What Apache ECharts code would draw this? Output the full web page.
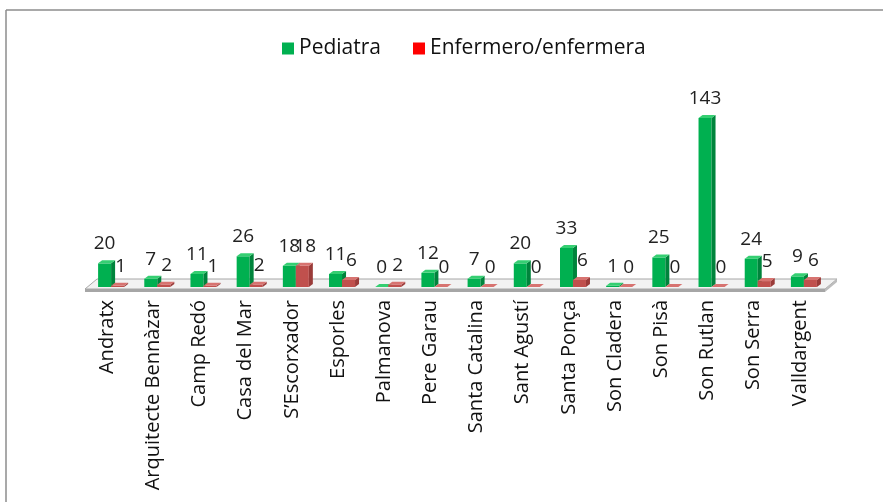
<!DOCTYPE html>
<html>
<head>
<meta charset="utf-8">
<script src="https://cdn.jsdelivr.net/npm/echarts@6/dist/echarts.min.js"></script>
<style>
  html, body { margin: 0; padding: 0; background: #fff; }
  #chart { width: 883px; height: 502px; }
</style>
</head>
<body>
<div id="chart"></div>
<script>
  // centros
  var categories = ['Andratx', 'Arquitecte Bennàzar', 'Camp Redó', 'Casa del Mar', 'S’Escorxador', 'Esporles',
    'Palmanova', 'Pere Garau', 'Santa Catalina', 'Sant Agustí', 'Santa Ponça', 'Son Cladera', 'Son Pisà',
    'Son Rutlan', 'Son Serra', 'Valldargent'];
  var pediatra = [20, 7, 11, 26, 18, 11, 0, 12, 7, 20, 33, 1, 25, 143, 24, 9];
  var enfermero = [1, 2, 1, 2, 18, 6, 2, 0, 0, 0, 6, 0, 0, 0, 5, 6];

  // colores de las caras: frontal, lateral, superior
  var faces = [
    ['#00b050', '#00843c', '#35cf72'],
    ['#c0504d', '#9a3b39', '#d77370']
  ];
  var barW = 13, dx = 4, dy = 3;

  function bar3d(idx, labelShift) {
    return function (params, api) {
      var v = api.value(1);
      var base = api.coord([api.value(0), 0]);
      var top = api.coord([api.value(0), v]);
      var x = base[0] - 9 + idx * barW;
      var y0 = base[1], y1 = top[1];
      var c = faces[idx];
      return {
        type: 'group',
        children: [
          { type: 'rect', shape: { x: x, y: y1, width: barW, height: y0 - y1 }, style: { fill: c[0] } },
          { type: 'polygon', shape: { points: [[x + barW, y1], [x + barW + dx, y1 - dy], [x + barW + dx, y0 - dy], [x + barW, y0]] }, style: { fill: c[1] } },
          { type: 'polygon', shape: { points: [[x, y1], [x + dx, y1 - dy], [x + barW + dx, y1 - dy], [x + barW, y1]] }, style: { fill: c[2] } },
          { type: 'text', x: x + barW / 2 + labelShift, y: y1 - 10,
            style: { text: String(v), fill: '#222', font: '19px "Open Sans"', textAlign: 'center', textVerticalAlign: 'bottom' } }
        ]
      };
    };
  }

  var chart = echarts.init(document.getElementById('chart'));
  chart.setOption({
    animation: false,
    legend: {
      top: 33,
      left: 277,
      icon: 'rect',
      itemWidth: 12,
      itemHeight: 12,
      itemGap: 32,
      textStyle: { fontFamily: 'Open Sans', fontSize: 21, color: '#111' },
      data: ['Pediatra', 'Enfermero/enfermera']
    },
    grid: { left: 84, right: 60, top: 118, bottom: 215 },
    xAxis: {
      type: 'category',
      data: categories,
      axisLine: { show: false },
      axisTick: { show: false },
      axisLabel: { rotate: 90, margin: 13, interval: 0, fontFamily: 'Open Sans', fontSize: 20, color: '#111' }
    },
    yAxis: { type: 'value', min: 0, max: 143, show: false },
    graphic: [
      { type: 'line', shape: { x1: 6, y1: 10, x2: 883, y2: 10 }, style: { stroke: '#8c8c8c', lineWidth: 1.5 } },
      { type: 'line', shape: { x1: 6, y1: 10, x2: 6, y2: 502 }, style: { stroke: '#8c8c8c', lineWidth: 1.5 } },
      { type: 'polygon', z: -1, shape: { points: [[97, 279], [837, 279], [825, 289], [85, 289]] }, style: { fill: '#f2f2f2', stroke: '#a6a6a6', lineWidth: 1 } },
      { type: 'polygon', z: -1, shape: { points: [[85, 289], [825, 289], [825, 292], [85, 292]] }, style: { fill: '#a6a6a6' } },
      { type: 'polygon', z: -1, shape: { points: [[825, 289], [837, 279], [837, 282], [825, 292]] }, style: { fill: '#bdbdbd' } }
    ],
    series: [
      { name: 'Pediatra', type: 'custom', itemStyle: { color: '#00b050' }, renderItem: bar3d(0, 0),
        data: pediatra.map(function (v, i) { return [i, v]; }) },
      { name: 'Enfermero/enfermera', type: 'custom', itemStyle: { color: '#ff0000' }, renderItem: bar3d(1, 3),
        data: enfermero.map(function (v, i) { return [i, v]; }) }
    ]
  });
</script>
</body>
</html>
